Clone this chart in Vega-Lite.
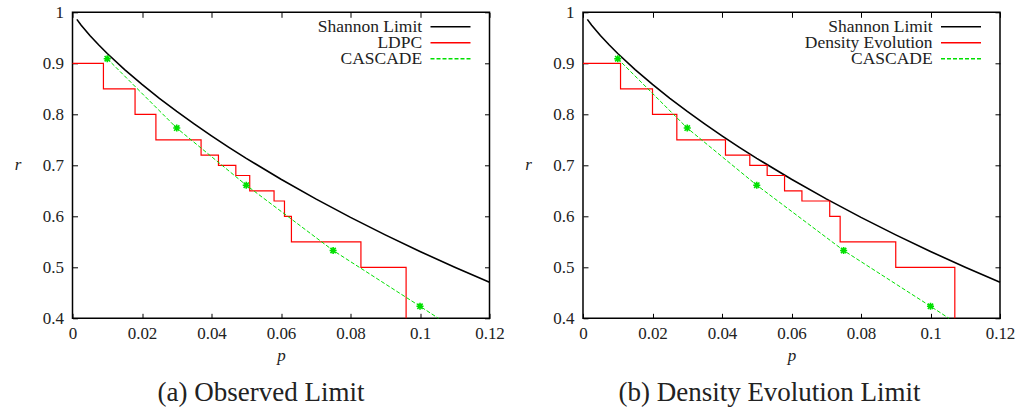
{
  "$schema": "https://vega.github.io/schema/vega-lite/v6.json",
  "padding": {"left": 12.5, "top": 2.3, "right": 0, "bottom": 0},
  "background": "white",
  "datasets": {
    "shannon": [
      {"p": 0.00125, "r": 0.98614}, {"p": 0.0025, "r": 0.97479}, {"p": 0.005, "r": 0.95458},
      {"p": 0.0075, "r": 0.93628}, {"p": 0.01, "r": 0.91921}, {"p": 0.015, "r": 0.88764},
      {"p": 0.02, "r": 0.85856}, {"p": 0.025, "r": 0.83134}, {"p": 0.03, "r": 0.80561},
      {"p": 0.035, "r": 0.78112}, {"p": 0.04, "r": 0.75771}, {"p": 0.045, "r": 0.73523},
      {"p": 0.05, "r": 0.7136}, {"p": 0.06, "r": 0.67256}, {"p": 0.07, "r": 0.63408},
      {"p": 0.08, "r": 0.59782}, {"p": 0.09, "r": 0.56353}, {"p": 0.1, "r": 0.531},
      {"p": 0.11, "r": 0.50008}, {"p": 0.12, "r": 0.47064}
    ],
    "ldpc": [
      {"p": 0, "r": 0.9}, {"p": 0.0089, "r": 0.85}, {"p": 0.018, "r": 0.8}, {"p": 0.024, "r": 0.75},
      {"p": 0.037, "r": 0.72}, {"p": 0.042, "r": 0.7}, {"p": 0.047, "r": 0.68}, {"p": 0.051, "r": 0.65},
      {"p": 0.058, "r": 0.63}, {"p": 0.061, "r": 0.6}, {"p": 0.063, "r": 0.55}, {"p": 0.083, "r": 0.5},
      {"p": 0.096, "r": 0.4}
    ],
    "de": [
      {"p": 0, "r": 0.9}, {"p": 0.0108, "r": 0.85}, {"p": 0.02, "r": 0.8}, {"p": 0.027, "r": 0.75},
      {"p": 0.041, "r": 0.72}, {"p": 0.048, "r": 0.7}, {"p": 0.053, "r": 0.68}, {"p": 0.058, "r": 0.65},
      {"p": 0.063, "r": 0.63}, {"p": 0.071, "r": 0.6}, {"p": 0.074, "r": 0.55}, {"p": 0.09, "r": 0.5},
      {"p": 0.107, "r": 0.4}
    ],
    "cascade": [
      {"p": 0.01, "r": 0.909}, {"p": 0.03, "r": 0.773}, {"p": 0.05, "r": 0.661},
      {"p": 0.075, "r": 0.533}, {"p": 0.1, "r": 0.4236}, {"p": 0.1053, "r": 0.4}
    ]
  },
  "config": {
    "font": "Liberation Serif",
    "view": {"stroke": "black", "strokeWidth": 1.5},
    "style": {"guide-label": {"font": "Liberation Serif"}, "guide-title": {"font": "Liberation Serif"}},
    "axis": {
      "domain": false, "grid": false, "tickColor": "black", "tickSize": -5, "tickWidth": 1,
      "labelFont": "Liberation Serif", "labelFontSize": 17, "labelColor": "#222",
      "labelFlush": false, "labelOverlap": false, "labelBound": false,
      "titleFont": "Liberation Serif", "titleFontSize": 17, "titleFontStyle": "italic",
      "titleFontWeight": "normal", "titleColor": "#222"
    },
    "legend": {"labelFont": "Liberation Serif", "rowPadding": -10},
    "title": {"font": "Liberation Serif", "fontSize": 27, "fontWeight": "normal", "color": "#222"}
  },
  "hconcat": [
    {
      "width": 417, "height": 306,
      "title": {"text": "(a) Observed Limit", "orient": "bottom", "anchor": "middle", "dx": -20, "offset": 17},
      "layer": [
        {
          "data": {"name": "shannon"},
          "mark": {"type": "line", "strokeWidth": 1.6},
          "encoding": {
            "x": {"field": "p", "type": "quantitative", "scale": {"domain": [0, 0.12], "nice": false, "zero": false},
                  "axis": {"orient": "bottom", "values": [0, 0.02, 0.04, 0.06, 0.08, 0.1, 0.12], "labelExpr": "format(datum.value, '~g')", "labelPadding": 12,
                           "title": "p", "titleX": 208.5, "titleY": 37, "titleBaseline": "middle", "titleAlign": "center"}},
            "y": {"field": "r", "type": "quantitative", "scale": {"domain": [0.4, 1], "nice": false, "zero": false},
                  "axis": {"orient": "left", "values": [0.4, 0.5, 0.6, 0.7, 0.8, 0.9, 1], "labelExpr": "format(datum.value, '~g')", "labelPadding": 14,
                           "title": "r", "titleAngle": 0, "titleX": -55, "titleY": 152, "titleAlign": "center", "titleBaseline": "middle"}},
            "color": {"datum": "Shannon Limit",
                      "scale": {"domain": ["Shannon Limit", "LDPC", "CASCADE"], "range": ["#000000", "#ff0000", "#00e000"]},
                      "legend": {"orient": "none", "legendX": 357, "legendY": 7.5, "title": null, "padding": 0,
                                 "symbolType": "stroke", "symbolSize": 1600, "symbolStrokeWidth": 1.5,
                                 "labelAlign": "right", "labelOffset": -49.4, "labelFontSize": 17.5, "labelColor": "#222",
                                 "labelFont": "Liberation Serif", "labelLimit": 0, "rowPadding": -10, "clipHeight": 14,
                                 "encode": {"entries": {"update": {"width": {"value": 60}}},
                                            "symbols": {"update": {"strokeDash": {"signal": "datum.value === 'CASCADE' ? [4, 2] : [1, 0]"}}}}}}
          }
        },
        {
          "data": {"name": "ldpc"},
          "mark": {"type": "line", "interpolate": "step-after", "strokeWidth": 1.2},
          "encoding": {
            "x": {"field": "p", "type": "quantitative", "scale": {"domain": [0, 0.12], "nice": false, "zero": false},
                  "axis": {"orient": "top", "values": [0, 0.02, 0.04, 0.06, 0.08, 0.1, 0.12], "labels": false, "title": null}},
            "y": {"field": "r", "type": "quantitative", "scale": {"domain": [0.4, 1], "nice": false, "zero": false},
                  "axis": {"orient": "right", "values": [0.4, 0.5, 0.6, 0.7, 0.8, 0.9, 1], "labels": false, "title": null}},
            "color": {"datum": "LDPC"}
          }
        },
        {
          "data": {"name": "cascade"},
          "mark": {"type": "line", "strokeWidth": 1, "strokeDash": [4, 2]},
          "encoding": {
            "x": {"field": "p", "type": "quantitative", "axis": null},
            "y": {"field": "r", "type": "quantitative", "axis": null},
            "color": {"datum": "CASCADE"}
          }
        },
        {
          "data": {"name": "cascade"},
          "transform": [{"filter": "datum.r > 0.401"}],
          "mark": {"type": "point", "shape": "M-1,0L1,0M0,-1L0,1M-0.75,-0.75L0.75,0.75M-0.75,0.75L0.75,-0.75", "filled": false, "stroke": "#00e000", "strokeWidth": 1.6, "size": 50, "opacity": 1},
          "encoding": {
            "x": {"field": "p", "type": "quantitative", "axis": null},
            "y": {"field": "r", "type": "quantitative", "axis": null}
          }
        }
      ],
      "resolve": {"axis": {"x": "independent", "y": "independent"}}
    },
    {
      "width": 417, "height": 306,
      "title": {"text": "(b) Density Evolution Limit", "orient": "bottom", "anchor": "middle", "dx": -22, "offset": 17},
      "layer": [
        {
          "data": {"name": "shannon"},
          "mark": {"type": "line", "strokeWidth": 1.6},
          "encoding": {
            "x": {"field": "p", "type": "quantitative", "scale": {"domain": [0, 0.12], "nice": false, "zero": false},
                  "axis": {"orient": "bottom", "values": [0, 0.02, 0.04, 0.06, 0.08, 0.1, 0.12], "labelExpr": "format(datum.value, '~g')", "labelPadding": 12,
                           "title": "p", "titleX": 208.5, "titleY": 37, "titleBaseline": "middle", "titleAlign": "center"}},
            "y": {"field": "r", "type": "quantitative", "scale": {"domain": [0.4, 1], "nice": false, "zero": false},
                  "axis": {"orient": "left", "values": [0.4, 0.5, 0.6, 0.7, 0.8, 0.9, 1], "labelExpr": "format(datum.value, '~g')", "labelPadding": 14,
                           "title": "r", "titleAngle": 0, "titleX": -55, "titleY": 152, "titleAlign": "center", "titleBaseline": "middle"}},
            "color": {"datum": "Shannon Limit",
                      "scale": {"domain": ["Shannon Limit", "Density Evolution", "CASCADE"], "range": ["#000000", "#ff0000", "#00e000"]},
                      "legend": {"orient": "none", "legendX": 357, "legendY": 7.5, "title": null, "padding": 0,
                                 "symbolType": "stroke", "symbolSize": 1600, "symbolStrokeWidth": 1.5,
                                 "labelAlign": "right", "labelOffset": -49.4, "labelFontSize": 17.5, "labelColor": "#222",
                                 "labelFont": "Liberation Serif", "labelLimit": 0, "rowPadding": -10, "clipHeight": 14,
                                 "encode": {"entries": {"update": {"width": {"value": 60}}},
                                            "symbols": {"update": {"strokeDash": {"signal": "datum.value === 'CASCADE' ? [4, 2] : [1, 0]"}}}}}}
          }
        },
        {
          "data": {"name": "de"},
          "mark": {"type": "line", "interpolate": "step-after", "strokeWidth": 1.2},
          "encoding": {
            "x": {"field": "p", "type": "quantitative", "scale": {"domain": [0, 0.12], "nice": false, "zero": false},
                  "axis": {"orient": "top", "values": [0, 0.02, 0.04, 0.06, 0.08, 0.1, 0.12], "labels": false, "title": null}},
            "y": {"field": "r", "type": "quantitative", "scale": {"domain": [0.4, 1], "nice": false, "zero": false},
                  "axis": {"orient": "right", "values": [0.4, 0.5, 0.6, 0.7, 0.8, 0.9, 1], "labels": false, "title": null}},
            "color": {"datum": "Density Evolution"}
          }
        },
        {
          "data": {"name": "cascade"},
          "mark": {"type": "line", "strokeWidth": 1, "strokeDash": [4, 2]},
          "encoding": {
            "x": {"field": "p", "type": "quantitative", "axis": null},
            "y": {"field": "r", "type": "quantitative", "axis": null},
            "color": {"datum": "CASCADE"}
          }
        },
        {
          "data": {"name": "cascade"},
          "transform": [{"filter": "datum.r > 0.401"}],
          "mark": {"type": "point", "shape": "M-1,0L1,0M0,-1L0,1M-0.75,-0.75L0.75,0.75M-0.75,0.75L0.75,-0.75", "filled": false, "stroke": "#00e000", "strokeWidth": 1.6, "size": 50, "opacity": 1},
          "encoding": {
            "x": {"field": "p", "type": "quantitative", "axis": null},
            "y": {"field": "r", "type": "quantitative", "axis": null}
          }
        }
      ],
      "resolve": {"axis": {"x": "independent", "y": "independent"}}
    }
  ],
  "spacing": 93.5,
  "bounds": "flush",
  "resolve": {"scale": {"color": "independent"}}
}
